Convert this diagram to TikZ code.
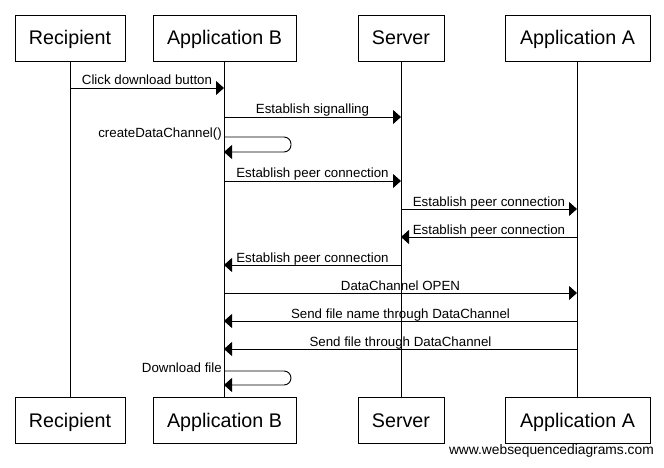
\documentclass[tikz,border=0pt]{standalone}
\usepackage{fontspec}
\setmainfont{Liberation Sans}
\usetikzlibrary{arrows.meta}

\begin{document}
\begin{tikzpicture}[x=1pt,y=-1pt,
  actor/.style={draw, line width=0.9pt, minimum height=46pt, inner sep=0pt, text height=14pt, text depth=0pt, font=\fontsize{19.7}{20}\selectfont},
  msg/.style={line width=0.9pt, -{Triangle[length=8pt,width=14pt]}},
  lbl/.style={font=\fontsize{13.3}{14}\selectfont, inner sep=0pt, anchor=base, yshift=3pt}]
\useasboundingbox (0,0) rectangle (664,468);

% participants
\node[actor, minimum width=110pt] (tid0) at (70,38){Recipient};
\node[actor, minimum width=143pt] (tid1) at (224.5,38){Application B};
\node[actor, minimum width=86pt] (tid2) at (401,38){Server};
\node[actor, minimum width=145pt] (tid3) at (577.5,38){Application A};
\node[actor, minimum width=110pt] (bid0) at (70,420.5){Recipient};
\node[actor, minimum width=143pt] (bid1) at (224.5,420.5){Application B};
\node[actor, minimum width=86pt] (bid2) at (401,420.5){Server};
\node[actor, minimum width=145pt] (bid3) at (577.5,420.5){Application A};
\draw[line width=0.9pt](tid0) -- (bid0);
\draw[line width=0.9pt](tid1) -- (bid1);
\draw[line width=0.9pt](tid2) -- (bid2);
\draw[line width=0.9pt](tid3) -- (bid3);

% message ends
\coordinate (m0a) at (70,88);
\coordinate (m0b) at (224,88);
\coordinate (m1a) at (224,117);
\coordinate (m1b) at (401,117);
\coordinate (m2a) at (224,137);
\coordinate (m2b) at (224,152);
\coordinate (m3a) at (224,181);
\coordinate (m3b) at (401,181);
\coordinate (m4a) at (401,209);
\coordinate (m4b) at (577,209);
\coordinate (m5a) at (577,237);
\coordinate (m5b) at (401,237);
\coordinate (m6a) at (401,265);
\coordinate (m6b) at (224,265);
\coordinate (m7a) at (224,293);
\coordinate (m7b) at (577,293);
\coordinate (m8a) at (577,321);
\coordinate (m8b) at (224,321);
\coordinate (m9a) at (577,349);
\coordinate (m9b) at (224,349);
\coordinate (m10a) at (224,371);
\coordinate (m10b) at (224,385);

\draw[msg](m0a) -- node[lbl] (lid0){Click download button} (m0b);
\draw[msg](m1a) -- node[lbl] (lid1){Establish signalling} (m1b);
\draw[msg, rounded corners=7pt](m2a) -- ++(67,0) -- ++(0,15) -- (m2b);
\node[lbl, anchor=base east, yshift=0pt] (lid2) at (222,141){createDataChannel()};
\draw[msg](m3a) -- node[lbl] (lid3){Establish peer connection} (m3b);
\draw[msg](m4a) -- node[lbl] (lid4){Establish peer connection} (m4b);
\draw[msg](m5a) -- node[lbl] (lid5){Establish peer connection} (m5b);
\draw[msg](m6a) -- node[lbl] (lid6){Establish peer connection} (m6b);
\draw[msg](m7a) -- node[lbl] (lid7){DataChannel OPEN} (m7b);
\draw[msg](m8a) -- node[lbl] (lid8){Send file name through DataChannel} (m8b);
\draw[msg](m9a) -- node[lbl] (lid9){Send file through DataChannel} (m9b);
\draw[msg, rounded corners=7pt](m10a) -- ++(67,0) -- ++(0,14) -- (m10b);
\node[lbl, anchor=base east, yshift=0pt] (lid10) at (222,375){Download file};

\node[lbl, anchor=base east, yshift=0pt, font=\fontsize{13.8}{14}\selectfont] (url) at (654,457){www.websequencediagrams.com};

\end{tikzpicture}
\end{document}
